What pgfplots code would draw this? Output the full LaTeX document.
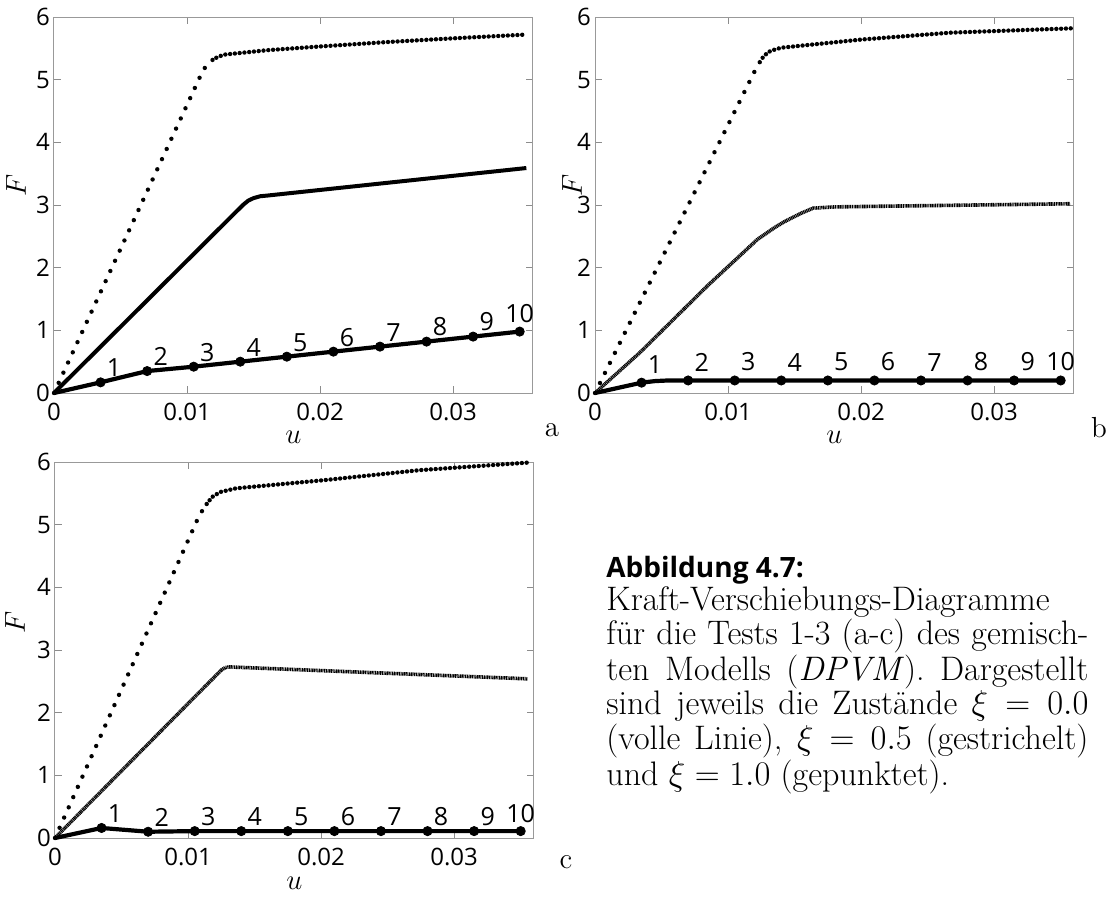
\documentclass[border=0pt]{standalone}
\usepackage{fontspec}
\usepackage{pgfplots}
\pgfplotsset{compat=1.18}
\newfontfamily\tickfont{Open Sans}

\pgfplotsset{
  panel/.style={
    scale only axis, width=239.5pt, height=188pt,
    xmin=0, xmax=0.036, ymin=0, ymax=6,
    xtick={0,0.01,0.02,0.03}, xticklabels={0,0.01,0.02,0.03},
    ytick={0,1,2,3,4,5,6}, yticklabels={0,1,2,3,4,5,6},
    scaled x ticks=false,
    tick align=inside,
    axis line style={black!40, line width=0.5pt},
    major tick style={black!45, line width=0.5pt},
    major tick length=3.5pt,
    tick label style={font=\tickfont\fontsize{12}{14}\selectfont, text=black},
    xticklabel style={yshift=-1.5pt},
    yticklabel style={xshift=1.5pt},
    label style={font=\fontsize{15}{18}\selectfont},
    xlabel={$u$}, ylabel={$F$},
    xlabel style={at={(axis description cs:0.5,-0.117)}, anchor=center},
    clip=false,
  },
  xizero/.style={black, line width=2.1pt, line join=round},
  solidhalf/.style={black, line width=2pt, line join=round},
  densehalf/.style={black, line width=1.8pt, dash pattern=on 0.55pt off 0.3pt},
  dotsteep/.style={black, line width=2.2pt, line cap=round, dash pattern=on 0pt off 5.6pt},
  dotflat/.style={black, line width=2.2pt, line cap=round, dash pattern=on 0pt off 2.4pt},
  marks/.style={only marks, mark=*, mark size=2.3pt, black,
    point meta=explicit symbolic, nodes near coords,
    every node near coord/.style={font=\tickfont\fontsize{12.5}{14}\selectfont,
      anchor=south west, inner sep=0pt, xshift=3pt, yshift=#1}},
  lastmark/.style={only marks, mark=*, mark size=2.3pt, black,
    point meta=explicit symbolic, nodes near coords,
    every node near coord/.style={font=\tickfont\fontsize{12.5}{14}\selectfont,
      anchor=south, inner sep=0pt, yshift=#1}},
}

\begin{document}
\begin{tikzpicture}
\path[use as bounding box] (0,0) rectangle (558pt,-450pt);

% ---- a ----
\begin{axis}[panel, at={(27pt,-196.5pt)}, anchor=south west,
  ylabel style={at={(axis description cs:-0.0793,0.553)}, anchor=center}]
\addplot[dotsteep] coordinates {(0,0) (0.0112,5.15) (0.0116,5.26) (0.0120,5.33) (0.0122,5.35)};
\addplot[dotflat] coordinates {(0.0122,5.35) (0.0124,5.37) (0.0128,5.40) (0.016,5.47) (0.020,5.53) (0.025,5.60) (0.030,5.66) (0.0355,5.72)};
\addplot[solidhalf] coordinates {(0,0) (0.0142,3.00) (0.0146,3.07) (0.0150,3.11) (0.0155,3.14) (0.0160,3.15) (0.0355,3.59)};
\addplot[xizero] coordinates {(0,0) (0.0035,0.17) (0.0070,0.35) (0.0105,0.42) (0.0140,0.50) (0.0175,0.58) (0.0210,0.66) (0.0245,0.74) (0.0280,0.82) (0.0315,0.90) (0.0350,0.98)};
\addplot[marks=2.5pt] table[meta=l] {
x y l
0.0035 0.17 1
0.0070 0.35 2
0.0105 0.42 3
0.0140 0.50 4
0.0175 0.58 5
0.0210 0.66 6
0.0245 0.74 7
0.0280 0.82 8
0.0315 0.90 9
};
\addplot[lastmark=4pt] table[meta=l] {
x y l
0.0350 0.98 10
};
\end{axis}

% ---- b ----
\begin{axis}[panel, at={(297.5pt,-196.5pt)}, anchor=south west,
  ylabel style={at={(axis description cs:-0.048,0.553)}, anchor=center}]
\addplot[dotsteep] coordinates {(0,0) (0.0122,5.22) (0.0126,5.35)};
\addplot[dotflat] coordinates {(0.0126,5.35) (0.0130,5.44) (0.0135,5.48) (0.0140,5.51) (0.020,5.64) (0.0267,5.75) (0.0359,5.82)};
\addplot[densehalf] coordinates {(0,0) (0.0034,0.65) (0.0084,1.70) (0.0122,2.45) (0.0135,2.64) (0.0142,2.73) (0.0155,2.87) (0.0164,2.95) (0.018,2.97) (0.025,2.99) (0.0357,3.02)};
\addplot[xizero] coordinates {(0,0) (0.0035,0.165) (0.0045,0.19) (0.0055,0.20) (0.0070,0.20) (0.0350,0.20)};
\addplot[marks=4.5pt] table[meta=l] {
x y l
0.0035 0.165 1
0.0070 0.20 2
0.0105 0.20 3
0.0140 0.20 4
0.0175 0.20 5
0.0210 0.20 6
0.0245 0.20 7
0.0280 0.20 8
0.0315 0.20 9
};
\addplot[lastmark=4.5pt] table[meta=l] {
x y l
0.0350 0.20 10
};
\end{axis}

% ---- c ----
\begin{axis}[panel, at={(27.5pt,-419pt)}, anchor=south west,
  ylabel style={at={(axis description cs:-0.0832,0.574)}, anchor=center},
  xlabel style={at={(axis description cs:0.5,-0.12)}, anchor=center}]
\addplot[dotsteep] coordinates {(0,0) (0.0107,5.08) (0.0110,5.20) (0.0114,5.33)};
\addplot[dotflat] coordinates {(0.0114,5.33) (0.0118,5.44) (0.0124,5.52) (0.0136,5.58) (0.0202,5.71) (0.0274,5.87) (0.0355,5.99)};
\addplot[densehalf] coordinates {(0,0) (0.0125,2.68) (0.0128,2.72) (0.0131,2.73) (0.0355,2.54)};
\addplot[xizero] coordinates {(0,0) (0.0035,0.16) (0.0070,0.10) (0.0105,0.11) (0.0350,0.11)};
\addplot[marks=2.5pt] table[meta=l] {
x y l
0.0035 0.16 1
0.0070 0.10 2
0.0105 0.11 3
0.0140 0.11 4
0.0175 0.11 5
0.0210 0.11 6
0.0245 0.11 7
0.0280 0.11 8
0.0315 0.11 9
};
\addplot[lastmark=4pt] table[meta=l] {
x y l
0.0350 0.11 10
};
\end{axis}

% panel letters
\node[font=\fontsize{14.5}{17}\selectfont] at (276pt,-215pt) {a};
\node[font=\fontsize{14.5}{17}\selectfont] at (549.5pt,-214pt) {b};
\node[font=\fontsize{14.5}{17}\selectfont] at (283pt,-431pt) {c};

% caption
\node[anchor=base west, inner sep=0pt, font=\tickfont\bfseries\fontsize{14}{16}\selectfont]
  at (303pt,-288.5pt) {Abbildung 4.7:};
\node[anchor=base west, inner sep=0pt] at (303pt,-305pt) {%
\begin{minipage}[t]{241pt}\fontsize{17}{15.2}\selectfont\noindent
Kraft-Verschiebungs-Diagramme\par\noindent
\makebox[\linewidth][s]{für die Tests 1-3 (a-c) des gemisch-}\par\noindent
\makebox[\linewidth][s]{ten Modells (\textit{DPVM}). Dargestellt}\par\noindent
\makebox[\linewidth][s]{sind jeweils die Zustände $\xi = 0.0$}\par\noindent
\makebox[\linewidth][s]{(volle Linie), $\xi = 0.5$ (gestrichelt)}\par\noindent
und $\xi = 1.0$ (gepunktet).
\end{minipage}};
\end{tikzpicture}
\end{document}
